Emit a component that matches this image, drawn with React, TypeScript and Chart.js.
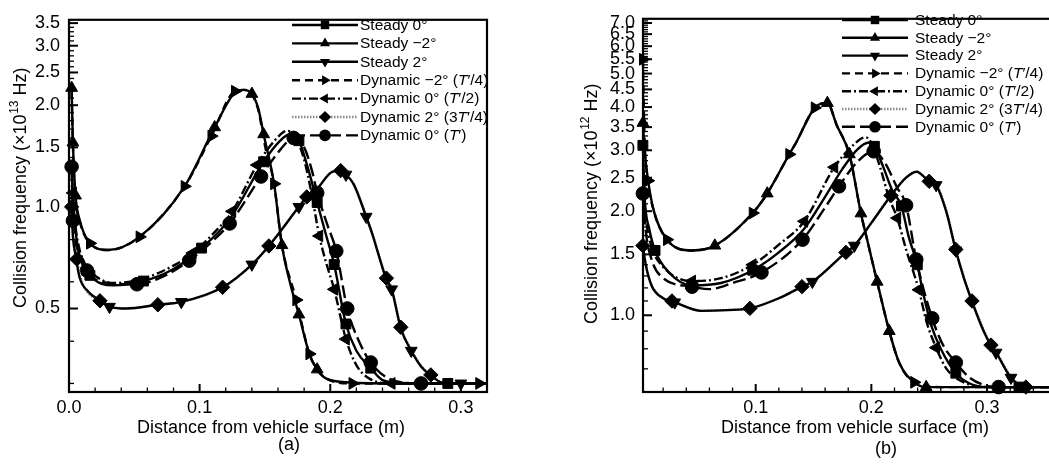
import React, { useEffect, useRef } from 'react';
import { Chart, registerables } from 'chart.js';
Chart.register(...registerables);

const FONT = '"Liberation Sans", Arial, sans-serif';

const LABELS = ['Steady 0°', 'Steady −2°', 'Steady 2°', 'Dynamic −2° (T′/4)', 'Dynamic 0° (T′/2)', 'Dynamic 2° (3T′/4)', 'Dynamic 0° (T′)'];

// ---------- panel (a) ----------
const aXLabels = [0.0, 0.1, 0.2, 0.3];
const aYLabels = [0.5, 1.0, 1.5, 2.0, 2.5, 3.0, 3.5];

const aS0X = [0.002, 0.003, 0.005, 0.008, 0.016, 0.034, 0.057, 0.080, 0.1015, 0.123, 0.149, 0.161, 0.169, 0.176, 0.183, 0.190, 0.197, 0.203, 0.212, 0.220, 0.231, 0.240, 0.255, 0.290, 0.320];
const aS0Y = [1.30, 1.05, 0.85, 0.72, 0.627, 0.586, 0.603, 0.655, 0.755, 0.92, 1.36, 1.56, 1.64, 1.57, 1.30, 1.03, 0.82, 0.675, 0.45, 0.375, 0.333, 0.307, 0.301, 0.30, 0.30];
const aS0M = [0, 0, 0, 0, 1, 0, 1, 0, 1, 0, 1, 0, 0, 1, 0, 1, 0, 1, 1, 0, 1, 0, 0, 1, 0];

const aSm2X = [0.002, 0.003, 0.005, 0.008, 0.016, 0.030, 0.054, 0.0885, 0.1115, 0.127, 0.134, 0.140, 0.145, 0.149, 0.157, 0.163, 0.170, 0.176, 0.184, 0.190, 0.197, 0.215, 0.250, 0.320];
const aSm2Y = [2.25, 1.55, 1.08, 0.92, 0.78, 0.745, 0.815, 1.15, 1.72, 2.18, 2.22, 2.16, 1.95, 1.64, 1.17, 0.77, 0.58, 0.48, 0.367, 0.33, 0.31, 0.302, 0.30, 0.30];
const aSm2M = [1, 1, 1, 0, 0, 0, 0, 0, 1, 0, 0, 1, 0, 1, 0, 1, 0, 1, 0, 1, 0, 0, 0, 0];

const aS2X = [0.002, 0.003, 0.005, 0.008, 0.015, 0.024, 0.031, 0.044, 0.068, 0.086, 0.1176, 0.140, 0.153, 0.176, 0.182, 0.189, 0.2015, 0.208, 0.212, 0.218, 0.2275, 0.232, 0.243, 0.247, 0.254, 0.262, 0.270, 0.277, 0.2855, 0.300, 0.320];
const aS2Y = [1.00, 0.82, 0.72, 0.62, 0.56, 0.527, 0.506, 0.50, 0.513, 0.523, 0.578, 0.675, 0.766, 1.00, 1.07, 1.12, 1.27, 1.28, 1.246, 1.166, 0.935, 0.835, 0.61, 0.57, 0.437, 0.375, 0.335, 0.317, 0.302, 0.30, 0.30];
const aS2M = [0, 0, 0, 0, 0, 0, 1, 0, 0, 1, 0, 1, 0, 1, 0, 0, 0, 0, 1, 0, 1, 0, 0, 1, 0, 1, 0, 0, 0, 1, 0];

const aDm2X = [0.002, 0.003, 0.005, 0.008, 0.016, 0.030, 0.054, 0.0885, 0.109, 0.127, 0.134, 0.140, 0.145, 0.150, 0.157, 0.163, 0.174, 0.184, 0.190, 0.197, 0.217, 0.270, 0.314];
const aDm2Y = [2.20, 1.50, 1.06, 0.91, 0.78, 0.745, 0.815, 1.15, 1.62, 2.20, 2.22, 2.15, 1.93, 1.52, 1.17, 0.77, 0.53, 0.367, 0.33, 0.31, 0.30, 0.30, 0.30];
const aDm2M = [0, 0, 0, 0, 1, 0, 1, 1, 1, 1, 0, 0, 0, 0, 1, 0, 1, 1, 0, 0, 1, 0, 1];

const aD0hX = [0.003, 0.004, 0.007, 0.012, 0.018, 0.034, 0.055, 0.080, 0.0947, 0.110, 0.125, 0.144, 0.158, 0.167, 0.173, 0.180, 0.186, 0.1916, 0.197, 0.203, 0.212, 0.220, 0.230, 0.247, 0.280, 0.320];
const aD0hY = [1.10, 0.95, 0.78, 0.68, 0.635, 0.595, 0.61, 0.67, 0.73, 0.83, 0.97, 1.33, 1.58, 1.68, 1.62, 1.38, 1.08, 0.82, 0.68, 0.57, 0.406, 0.34, 0.31, 0.30, 0.30, 0.30];
const aD0hM = [1, 0, 0, 0, 0, 0, 0, 0, 1, 0, 1, 1, 0, 0, 0, 0, 0, 1, 0, 1, 1, 0, 0, 1, 0, 0];

const aD2X = [0.002, 0.003, 0.006, 0.010, 0.0237, 0.044, 0.068, 0.086, 0.1176, 0.140, 0.153, 0.176, 0.182, 0.189, 0.2015, 0.208, 0.212, 0.218, 0.2275, 0.232, 0.243, 0.247, 0.254, 0.262, 0.270, 0.277, 0.2855, 0.300, 0.320];
const aD2Y = [1.00, 0.82, 0.70, 0.60, 0.527, 0.50, 0.513, 0.523, 0.578, 0.675, 0.766, 1.00, 1.07, 1.12, 1.27, 1.28, 1.246, 1.166, 0.94, 0.84, 0.615, 0.575, 0.44, 0.378, 0.337, 0.318, 0.302, 0.30, 0.30];
const aD2M = [1, 0, 1, 0, 1, 0, 1, 0, 1, 0, 1, 0, 1, 0, 0, 1, 0, 0, 0, 0, 1, 0, 1, 0, 0, 1, 0, 0, 0];

const aD0X = [0.002, 0.003, 0.006, 0.0137, 0.025, 0.052, 0.075, 0.092, 0.108, 0.123, 0.147, 0.162, 0.172, 0.180, 0.186, 0.190, 0.198, 0.2046, 0.213, 0.222, 0.231, 0.245, 0.2695, 0.320];
const aD0Y = [1.315, 0.91, 0.76, 0.648, 0.60, 0.59, 0.63, 0.693, 0.78, 0.893, 1.23, 1.48, 1.60, 1.50, 1.28, 1.10, 0.88, 0.74, 0.50, 0.40, 0.346, 0.31, 0.30, 0.30];
const aD0M = [1, 1, 0, 1, 0, 1, 0, 1, 0, 1, 1, 0, 1, 0, 0, 1, 0, 1, 1, 0, 1, 0, 1, 0];

// ---------- panel (b) ----------
const bXLabels = [0.1, 0.2, 0.3];
const bYLabels = [1.0, 1.5, 2.0, 2.5, 3.0, 3.5, 4.0, 4.5, 5.0, 5.5, 6.0, 6.5, 7.0];

const bS0X = [0.0025, 0.004, 0.008, 0.013, 0.025, 0.045, 0.070, 0.0974, 0.120, 0.142, 0.160, 0.175, 0.188, 0.198, 0.2026, 0.210, 0.218, 0.226, 0.232, 0.2397, 0.245, 0.252, 0.260, 0.273, 0.285, 0.300, 0.3276, 0.360];
const bS0Y = [3.10, 2.20, 1.78, 1.54, 1.33, 1.22, 1.24, 1.35, 1.52, 1.78, 2.20, 2.65, 3.02, 3.16, 3.08, 2.70, 2.30, 2.07, 1.70, 1.40, 1.15, 0.93, 0.80, 0.68, 0.635, 0.62, 0.62, 0.62];
const bS0M = [1, 0, 0, 1, 0, 1, 0, 1, 0, 0, 0, 0, 0, 0, 1, 0, 0, 1, 0, 1, 0, 0, 0, 1, 0, 0, 1, 0];

const bSm2X = [0.0025, 0.004, 0.007, 0.012, 0.023, 0.045, 0.0647, 0.0974, 0.110, 0.129, 0.135, 0.151, 0.162, 0.170, 0.181, 0.191, 0.197, 0.205, 0.2155, 0.224, 0.237, 0.2474, 0.300, 0.360];
const bSm2Y = [3.60, 3.00, 2.45, 2.00, 1.66, 1.54, 1.59, 1.975, 2.25, 2.92, 3.16, 3.98, 4.11, 3.55, 2.92, 1.97, 1.62, 1.25, 0.90, 0.73, 0.64, 0.62, 0.62, 0.62];
const bSm2M = [1, 0, 0, 0, 0, 0, 1, 0, 1, 0, 0, 0, 1, 0, 1, 1, 0, 1, 1, 0, 0, 1, 0, 0];

const bS2X = [0.0025, 0.005, 0.010, 0.020, 0.030, 0.053, 0.075, 0.095, 0.120, 0.140, 0.149, 0.178, 0.1853, 0.200, 0.217, 0.230, 0.239, 0.250, 0.256, 0.265, 0.273, 0.280, 0.287, 0.297, 0.3034, 0.3078, 0.3207, 0.3336, 0.360];
const bS2Y = [1.59, 1.40, 1.22, 1.12, 1.09, 1.03, 1.035, 1.047, 1.12, 1.21, 1.25, 1.52, 1.59, 1.85, 2.22, 2.50, 2.60, 2.44, 2.38, 1.98, 1.54, 1.28, 1.096, 0.90, 0.817, 0.78, 0.66, 0.62, 0.62];
const bS2M = [0, 0, 0, 0, 1, 0, 0, 0, 0, 0, 1, 0, 1, 0, 0, 0, 0, 0, 1, 0, 1, 0, 0, 0, 0, 1, 1, 0, 0];

const bDm2X = [0.0025, 0.004, 0.0069, 0.012, 0.0233, 0.045, 0.0647, 0.0974, 0.110, 0.129, 0.135, 0.151, 0.162, 0.170, 0.181, 0.191, 0.197, 0.205, 0.2155, 0.224, 0.237, 0.260, 0.300, 0.360];
const bDm2Y = [5.50, 3.20, 2.45, 2.00, 1.655, 1.54, 1.59, 1.975, 2.25, 2.92, 3.16, 3.98, 4.11, 3.55, 2.92, 1.97, 1.62, 1.25, 0.90, 0.73, 0.64, 0.62, 0.62, 0.62];
const bDm2M = [1, 0, 1, 0, 1, 0, 0, 1, 0, 1, 0, 1, 0, 0, 0, 0, 0, 0, 0, 0, 1, 0, 0, 0];

const bD0hX = [0.0025, 0.005, 0.010, 0.020, 0.045, 0.070, 0.0974, 0.120, 0.142, 0.168, 0.185, 0.195, 0.200, 0.208, 0.215, 0.2224, 0.230, 0.241, 0.248, 0.256, 0.265, 0.280, 0.300, 0.360];
const bD0hY = [2.30, 1.90, 1.58, 1.38, 1.256, 1.28, 1.40, 1.60, 1.87, 2.68, 3.12, 3.27, 3.15, 2.65, 2.20, 1.91, 1.55, 1.185, 0.95, 0.806, 0.70, 0.64, 0.62, 0.62];
const bD0hM = [0, 0, 0, 0, 1, 0, 1, 0, 1, 1, 0, 0, 0, 0, 0, 1, 0, 1, 0, 1, 0, 0, 0, 0];

const bD2X = [0.0025, 0.005, 0.010, 0.020, 0.0276, 0.053, 0.075, 0.095, 0.120, 0.140, 0.149, 0.178, 0.1853, 0.200, 0.217, 0.230, 0.239, 0.250, 0.256, 0.265, 0.273, 0.280, 0.287, 0.297, 0.3034, 0.3078, 0.3207, 0.3336, 0.360];
const bD2Y = [1.59, 1.40, 1.22, 1.12, 1.10, 1.03, 1.035, 1.047, 1.12, 1.21, 1.25, 1.52, 1.59, 1.85, 2.22, 2.50, 2.60, 2.44, 2.39, 2.00, 1.55, 1.29, 1.10, 0.91, 0.82, 0.785, 0.665, 0.62, 0.62];
const bD2M = [1, 0, 0, 0, 1, 0, 0, 1, 0, 1, 0, 1, 0, 0, 1, 0, 0, 1, 0, 0, 1, 0, 1, 0, 1, 0, 0, 1, 0];

const bD0X = [0.0025, 0.005, 0.010, 0.020, 0.045, 0.060, 0.080, 0.105, 0.1405, 0.160, 0.172, 0.188, 0.202, 0.212, 0.222, 0.230, 0.2388, 0.2526, 0.262, 0.273, 0.285, 0.300, 0.310, 0.360];
const bD0Y = [2.25, 1.75, 1.45, 1.28, 1.21, 1.19, 1.24, 1.33, 1.655, 2.05, 2.36, 2.78, 2.98, 2.75, 2.35, 2.08, 1.45, 0.98, 0.82, 0.73, 0.66, 0.625, 0.62, 0.62];
const bD0M = [1, 0, 0, 0, 1, 0, 0, 1, 1, 0, 1, 0, 1, 0, 0, 1, 1, 1, 0, 1, 0, 0, 1, 0];

// ---------- styles ----------
const STYLES = [
  { dash: [], color: '#000', point: 'rect', rot: 0, r: 7 },
  { dash: [], color: '#000', point: 'triangle', rot: 0, r: 6.8 },
  { dash: [], color: '#000', point: 'triangle', rot: 180, r: 6.8 },
  { dash: [8, 5], color: '#000', point: 'triangle', rot: 90, r: 6.8 },
  { dash: [9, 3, 2, 3], color: '#000', point: 'triangle', rot: 270, r: 6.8 },
  { dash: [1.5, 1.5], color: '#8a8a8a', point: 'rectRot', rot: 0, r: 7.2 },
  { dash: [13, 5], color: '#000', point: 'circle', rot: 0, r: 6.8 },
];

function makeDataset(i: number, X: number[], Y: number[], M: number[]) {
  const st = STYLES[i];
  return {
    label: LABELS[i],
    data: X.map((x, k) => ({ x, y: Y[k] })),
    borderColor: st.color,
    borderWidth: 2.4,
    borderDash: st.dash,
    pointStyle: st.point,
    pointRotation: st.rot,
    pointRadius: M.map((m) => (m ? st.r : 0)),
    pointHoverRadius: 0,
    pointBackgroundColor: '#000',
    pointBorderColor: '#000',
    pointBorderWidth: 1,
    cubicInterpolationMode: 'monotone',
    fill: false,
    clip: false,
  };
}

function drawMarker(ctx: CanvasRenderingContext2D, style: string, rotDeg: number, x: number, y: number, r: number) {
  ctx.save();
  ctx.fillStyle = '#000';
  ctx.setLineDash([]);
  ctx.beginPath();
  let a = (rotDeg * Math.PI) / 180;
  if (style === 'circle') ctx.arc(x, y, r, 0, Math.PI * 2);
  else if (style === 'rect') {
    const s = r * Math.SQRT1_2;
    ctx.rect(x - s, y - s, 2 * s, 2 * s);
  } else if (style === 'rectRot') {
    ctx.moveTo(x, y - r);
    ctx.lineTo(x + r, y);
    ctx.lineTo(x, y + r);
    ctx.lineTo(x - r, y);
    ctx.closePath();
  } else {
    ctx.moveTo(x + Math.sin(a) * r, y - Math.cos(a) * r);
    a += (2 * Math.PI) / 3;
    ctx.lineTo(x + Math.sin(a) * r, y - Math.cos(a) * r);
    a += (2 * Math.PI) / 3;
    ctx.lineTo(x + Math.sin(a) * r, y - Math.cos(a) * r);
    ctx.closePath();
  }
  ctx.fill();
  ctx.restore();
}

function drawRich(ctx: CanvasRenderingContext2D, text: string, x: number, y: number, size: number) {
  const parts = text.split(/(T(?=′))/);
  let cx = x;
  for (const p of parts) {
    if (!p) continue;
    const it = p === 'T';
    ctx.font = `${it ? 'italic ' : ''}${size}px ${FONT}`;
    ctx.fillText(p, cx, y);
    cx += ctx.measureText(p).width;
  }
}

type Decor = {
  xMajor: number[];
  xMinor: number[];
  yMajor: number[];
  yMinor: number[];
  legend: { x0: number; x1: number; xm: number; xt: number; y0: number; dy: number; size: number };
  xTitle: { cx: number; by: number };
  yTitle: { bx: number; cy: number; exp: string };
  tag: { text: string; cx: number; cy: number };
};

function makeDecor(cfg: Decor) {
  return {
    id: 'decor',
    afterDraw(chart: any) {
      const ctx: CanvasRenderingContext2D = chart.ctx;
      const ca = chart.chartArea;
      const xs = chart.scales.x;
      const ys = chart.scales.y;
      ctx.save();
      ctx.strokeStyle = '#000';
      ctx.setLineDash([]);
      const seg = (x1: number, y1: number, x2: number, y2: number) => {
        ctx.beginPath();
        ctx.moveTo(x1, y1);
        ctx.lineTo(x2, y2);
        ctx.stroke();
      };
      ctx.lineWidth = 1.3;
      for (const v of cfg.xMinor) {
        const p = xs.getPixelForValue(v);
        if (p > ca.left && p < ca.right) seg(p, ca.bottom, p, ca.bottom - 4.5);
      }
      for (const v of cfg.yMinor) {
        const p = ys.getPixelForValue(v);
        if (p > ca.top && p < ca.bottom) seg(ca.left, p, ca.left + 5, p);
      }
      ctx.lineWidth = 2;
      for (const v of cfg.xMajor) {
        const p = xs.getPixelForValue(v);
        if (p > ca.left && p < ca.right) seg(p, ca.bottom, p, ca.bottom - 8);
      }
      for (const v of cfg.yMajor) {
        const p = ys.getPixelForValue(v);
        if (p > ca.top && p < ca.bottom) seg(ca.left, p, ca.left + 9, p);
      }
      ctx.lineWidth = 2.2;
      ctx.strokeRect(ca.left, ca.top, ca.right - ca.left, ca.bottom - ca.top);

      // legend
      const L = cfg.legend;
      ctx.textBaseline = 'middle';
      ctx.textAlign = 'left';
      ctx.fillStyle = '#000';
      STYLES.forEach((st, i) => {
        const y = L.y0 + i * L.dy;
        ctx.save();
        ctx.strokeStyle = st.color;
        ctx.lineWidth = 2.4;
        ctx.setLineDash(st.dash);
        seg(L.x0, y, L.x1, y);
        ctx.restore();
        drawMarker(ctx, st.point, st.rot, L.xm, y, st.r * 0.85);
        ctx.fillStyle = '#000';
        drawRich(ctx, LABELS[i], L.xt, y + 0.5, L.size);
      });

      // x title
      ctx.font = `18px ${FONT}`;
      ctx.textAlign = 'center';
      ctx.textBaseline = 'alphabetic';
      ctx.fillText('Distance from vehicle surface (m)', cfg.xTitle.cx, cfg.xTitle.by);

      // tag
      ctx.textBaseline = 'middle';
      ctx.fillText(cfg.tag.text, cfg.tag.cx, cfg.tag.cy);

      // y title with superscript
      const T = cfg.yTitle;
      const s1 = 'Collision frequency (×10';
      const s2 = T.exp;
      const s3 = ' Hz)';
      ctx.textAlign = 'left';
      ctx.textBaseline = 'alphabetic';
      ctx.font = `18px ${FONT}`;
      const w1 = ctx.measureText(s1).width;
      const w3 = ctx.measureText(s3).width;
      ctx.font = `12px ${FONT}`;
      const w2 = ctx.measureText(s2).width;
      ctx.save();
      ctx.translate(T.bx, T.cy);
      ctx.rotate(-Math.PI / 2);
      let x = -(w1 + w2 + w3) / 2;
      ctx.font = `18px ${FONT}`;
      ctx.fillText(s1, x, 0);
      x += w1;
      ctx.font = `12px ${FONT}`;
      ctx.fillText(s2, x + 0.5, -8);
      x += w2 + 0.5;
      ctx.font = `18px ${FONT}`;
      ctx.fillText(s3, x, 0);
      ctx.restore();
      ctx.restore();
    },
  };
}

function minorList(from: number, to: number, skip: number[]) {
  const out: number[] = [];
  for (let k = Math.round(from * 100); k <= Math.round(to * 100); k += 2) {
    const v = k / 100;
    if (!skip.some((s) => Math.abs(s - v) < 1e-9)) out.push(v);
  }
  return out;
}
function minorListY(from: number, to: number, skip: number[]) {
  const out: number[] = [];
  for (let k = Math.round(from * 10); k <= Math.round(to * 10); k += 1) {
    const v = k / 10;
    if (!skip.some((s) => Math.abs(s - v) < 1e-9)) out.push(v);
  }
  return out;
}

function buildConfig(p: {
  datasets: any[];
  xMin: number; xMax: number; yMin: number; yMax: number;
  xLabels: number[]; yLabels: number[];
  padding: any; yWidth: number; yPad: number;
  decor: Decor;
}) {
  return {
    type: 'line',
    data: { datasets: p.datasets },
    options: {
      responsive: false,
      animation: false,
      events: [],
      layout: { padding: p.padding },
      plugins: { legend: { display: false }, tooltip: { enabled: false } },
      scales: {
        x: {
          type: 'linear',
          min: p.xMin,
          max: p.xMax,
          grid: { display: false, drawTicks: false },
          border: { display: false },
          afterBuildTicks: (s: any) => { s.ticks = p.xLabels.map((v) => ({ value: v })); },
          afterFit: (s: any) => { s.height = 74; },
          ticks: {
            padding: 5, color: '#000', autoSkip: false, maxRotation: 0,
            font: { family: FONT, size: 18 },
            callback: (v: any) => Number(v).toFixed(1),
          },
        },
        y: {
          type: 'logarithmic',
          min: p.yMin,
          max: p.yMax,
          grid: { display: false, drawTicks: false },
          border: { display: false },
          afterBuildTicks: (s: any) => { s.ticks = p.yLabels.map((v) => ({ value: v })); },
          afterFit: (s: any) => { s.width = p.yWidth; },
          ticks: {
            padding: p.yPad, color: '#000', autoSkip: false,
            font: { family: FONT, size: 18 },
            callback: (v: any) => Number(v).toFixed(1),
          },
        },
      },
    },
    plugins: [makeDecor(p.decor)],
  };
}

function Panel({ left, width, height, make }: { left: number; width: number; height: number; make: () => any }) {
  const ref = useRef<HTMLCanvasElement | null>(null);
  useEffect(() => {
    const chart = new Chart(ref.current as HTMLCanvasElement, make());
    return () => chart.destroy();
  }, []);
  return <canvas ref={ref} width={width} height={height} style={{ position: 'absolute', left, top: 0, width, height }} />;
}

const makeA = () =>
  buildConfig({
    datasets: [
      makeDataset(0, aS0X, aS0Y, aS0M),
      makeDataset(1, aSm2X, aSm2Y, aSm2M),
      makeDataset(2, aS2X, aS2Y, aS2M),
      makeDataset(3, aDm2X, aDm2Y, aDm2M),
      makeDataset(4, aD0hX, aD0hY, aD0hM),
      makeDataset(5, aD2X, aD2Y, aD2M),
      makeDataset(6, aD0X, aD0Y, aD0M),
    ],
    xMin: 0, xMax: 0.32, yMin: 0.283, yMax: 3.58,
    xLabels: aXLabels, yLabels: aYLabels,
    padding: { top: 12, right: 38, left: 0, bottom: 0 },
    yWidth: 69, yPad: 9,
    decor: {
      xMajor: aXLabels,
      xMinor: minorList(0.02, 0.32, aXLabels),
      yMajor: aYLabels,
      yMinor: minorListY(0.3, 3.5, aYLabels),
      legend: { x0: 292, x1: 358, xm: 325, xt: 360, y0: 25, dy: 18.4, size: 15.5 },
      xTitle: { cx: 271, by: 433 },
      yTitle: { bx: 26, cy: 188, exp: '13' },
      tag: { text: '(a)', cx: 289, cy: 445 },
    },
  });

const makeB = () =>
  buildConfig({
    datasets: [
      makeDataset(0, bS0X, bS0Y, bS0M),
      makeDataset(1, bSm2X, bSm2Y, bSm2M),
      makeDataset(2, bS2X, bS2Y, bS2M),
      makeDataset(3, bDm2X, bDm2Y, bDm2M),
      makeDataset(4, bD0hX, bD0hY, bD0hM),
      makeDataset(5, bD2X, bD2Y, bD2M),
      makeDataset(6, bD0X, bD0Y, bD0M),
    ],
    xMin: 0.0026, xMax: 0.3603, yMin: 0.6, yMax: 7.2,
    xLabels: bXLabels, yLabels: bYLabels,
    padding: { top: 12, right: 7, left: 0, bottom: 0 },
    yWidth: 118, yPad: 8,
    decor: {
      xMajor: bXLabels,
      xMinor: minorList(0.02, 0.36, bXLabels),
      yMajor: bYLabels,
      yMinor: minorListY(0.7, 7.2, bYLabels),
      legend: { x0: 317, x1: 383, xm: 350, xt: 390, y0: 20, dy: 17.8, size: 15.5 },
      xTitle: { cx: 330, by: 433 },
      yTitle: { bx: 72, cy: 204, exp: '12' },
      tag: { text: '(b)', cx: 361, cy: 449 },
    },
  });

export default function App() {
  return (
    <div style={{ position: 'fixed', left: 0, top: 0, width: 1049, height: 466, overflow: 'hidden', background: '#fff' }}>
      <Panel left={0} width={525} height={466} make={makeA} />
      <Panel left={525} width={540} height={466} make={makeB} />
    </div>
  );
}
